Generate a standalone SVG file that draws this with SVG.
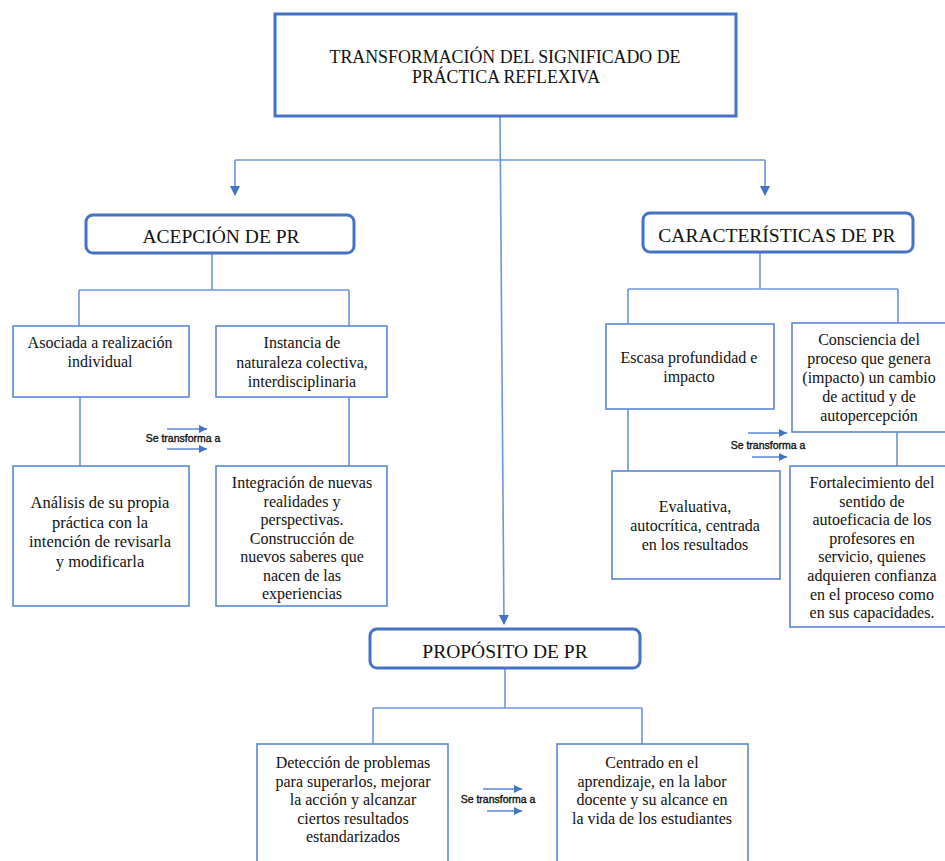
<svg xmlns="http://www.w3.org/2000/svg" width="945" height="861" viewBox="0 0 945 861">
<defs>
<marker id="arr" markerUnits="userSpaceOnUse" markerWidth="12" markerHeight="10" refX="9" refY="5" orient="auto">
<path d="M0,0 L10,5 L0,10 Z" fill="#4472C4"/>
</marker>
<marker id="arrs" markerUnits="userSpaceOnUse" markerWidth="10" markerHeight="8" refX="8" refY="4" orient="auto">
<path d="M0,0 L8,4 L0,8 Z" fill="#4472C4"/>
</marker>
<style>
.title{fill:#fff;stroke:#4472C4;stroke-width:3}
.box{fill:#fff;stroke:#5a87d6;stroke-width:1.6}
.con{fill:none;stroke:#6d96da;stroke-width:1.6}
.tarr{fill:none;stroke:#5a87d6;stroke-width:1.3}
.t{font-family:"Liberation Serif","Times New Roman",serif;font-size:16px;fill:#111;text-anchor:middle}
.h{font-family:"Liberation Serif","Times New Roman",serif;font-size:19.5px;fill:#111;text-anchor:middle}
.s{font-family:"Liberation Sans",Arial,sans-serif;font-size:10.5px;fill:#111;stroke:#111;stroke-width:0.35;text-anchor:middle}
</style>
</defs>
<rect width="945" height="861" fill="#fff"/>

<g id="connectors">
<path class="con" d="M235,160 H765"/>
<path class="con" d="M235,160 V195" marker-end="url(#arr)"/>
<path class="con" d="M765,160 V195" marker-end="url(#arr)"/>
<path class="con" d="M500,116 L504,624" marker-end="url(#arr)"/>
<path class="con" d="M212,253 V290 M79,290 H349 M79,290 V326 M349,290 V326"/>
<path class="con" d="M80,397 V466 M349,397 V466"/>
<path class="con" d="M760,252 V289 M628,289 H898 M628,289 V324 M898,289 V323"/>
<path class="con" d="M628,409 V471 M897,432 V466"/>
<path class="con" d="M505,668 V708 M373,708 H642 M373,708 V744 M642,708 V744"/>
<path class="tarr" d="M167,429 H207" marker-end="url(#arrs)"/>
<path class="tarr" d="M167,449 H207" marker-end="url(#arrs)"/>
<path class="tarr" d="M748,433 H787" marker-end="url(#arrs)"/>
<path class="tarr" d="M752,457 H787" marker-end="url(#arrs)"/>
<path class="tarr" d="M483,789 H522" marker-end="url(#arrs)"/>
<path class="tarr" d="M487,811 H522" marker-end="url(#arrs)"/>
</g>

<g id="transform-labels">
<text class="s" x="183" y="442">Se transforma a</text>
<text class="s" x="768" y="449">Se transforma a</text>
<text class="s" x="498" y="803">Se transforma a</text>
</g>

<g id="n-main">
<rect class="title" x="275" y="14" width="461" height="102"/>
<text class="h" x="505" y="63" textLength="351" lengthAdjust="spacingAndGlyphs">TRANSFORMACIÓN DEL SIGNIFICADO DE</text>
<text class="h" x="506" y="83" textLength="188" lengthAdjust="spacingAndGlyphs">PRÁCTICA REFLEXIVA</text>
</g>

<g id="n-acepcion">
<rect class="title" x="86" y="215" width="268" height="38" rx="7"/>
<text class="h" x="221" y="243">ACEPCIÓN DE PR</text>
</g>

<g id="n-caracteristicas">
<rect class="title" x="643" y="213" width="270" height="39" rx="7"/>
<text class="h" x="777" y="242">CARACTERÍSTICAS DE PR</text>
</g>

<g id="n-proposito">
<rect class="title" x="370" y="629" width="270" height="39" rx="7"/>
<text class="h" x="505" y="658">PROPÓSITO DE PR</text>
</g>

<g id="n-asociada">
<rect class="box" x="13" y="326" width="176" height="71"/>
<text class="t" x="100" y="348">Asociada a realización</text>
<text class="t" x="100" y="367">individual</text>
</g>

<g id="n-instancia">
<rect class="box" x="216" y="326" width="171" height="71"/>
<text class="t" x="302" y="348">Instancia de</text>
<text class="t" x="302" y="367.5">naturaleza colectiva,</text>
<text class="t" x="302" y="387">interdisciplinaria</text>
</g>

<g id="n-analisis">
<rect class="box" x="13" y="466" width="176" height="140"/>
<text class="t" x="100" y="508" style="font-size:16.5px">Análisis de su propia</text>
<text class="t" x="100" y="528" style="font-size:16.5px">práctica con la</text>
<text class="t" x="100" y="547" style="font-size:16.5px">intención de revisarla</text>
<text class="t" x="100" y="567" style="font-size:16.5px">y modificarla</text>
</g>

<g id="n-integracion">
<rect class="box" x="216" y="466" width="171" height="140"/>
<text class="t" x="302" y="488">Integración de nuevas</text>
<text class="t" x="302" y="506.5">realidades y</text>
<text class="t" x="302" y="525">perspectivas.</text>
<text class="t" x="302" y="543.5">Construcción de</text>
<text class="t" x="302" y="562">nuevos saberes que</text>
<text class="t" x="302" y="580.5">nacen de las</text>
<text class="t" x="302" y="599">experiencias</text>
</g>

<g id="n-escasa">
<rect class="box" x="606" y="324" width="168" height="85"/>
<text class="t" x="689" y="363">Escasa profundidad e</text>
<text class="t" x="689" y="382">impacto</text>
</g>

<g id="n-consciencia">
<rect class="box" x="792" y="323" width="160" height="109"/>
<text class="t" x="869" y="345">Consciencia del</text>
<text class="t" x="869" y="364">proceso que genera</text>
<text class="t" x="869" y="383">(impacto) un cambio</text>
<text class="t" x="869" y="402">de actitud y de</text>
<text class="t" x="869" y="421">autopercepción</text>
</g>

<g id="n-evaluativa">
<rect class="box" x="612" y="471" width="168" height="108"/>
<text class="t" x="695" y="512">Evaluativa,</text>
<text class="t" x="695" y="531">autocrítica, centrada</text>
<text class="t" x="695" y="550">en los resultados</text>
</g>

<g id="n-fortalecimiento">
<rect class="box" x="790" y="466" width="162" height="161"/>
<text class="t" x="872" y="488">Fortalecimiento del</text>
<text class="t" x="872" y="506.6">sentido de</text>
<text class="t" x="872" y="525.2">autoeficacia de los</text>
<text class="t" x="872" y="543.8">profesores en</text>
<text class="t" x="872" y="562.4">servicio, quienes</text>
<text class="t" x="872" y="581">adquieren confianza</text>
<text class="t" x="872" y="599.6">en el proceso como</text>
<text class="t" x="872" y="618.2">en sus capacidades.</text>
</g>

<g id="n-deteccion">
<rect class="box" x="257" y="744" width="191" height="130"/>
<text class="t" x="353" y="768">Detección de problemas</text>
<text class="t" x="353" y="786.5">para superarlos, mejorar</text>
<text class="t" x="353" y="805">la acción y alcanzar</text>
<text class="t" x="353" y="823.5">ciertos resultados</text>
<text class="t" x="353" y="842">estandarizados</text>
</g>

<g id="n-centrado">
<rect class="box" x="557" y="744" width="191" height="130"/>
<text class="t" x="652" y="768">Centrado en el</text>
<text class="t" x="652" y="786.5">aprendizaje, en la labor</text>
<text class="t" x="652" y="805">docente y su alcance en</text>
<text class="t" x="652" y="823.5">la vida de los estudiantes</text>
</g>
</svg>
